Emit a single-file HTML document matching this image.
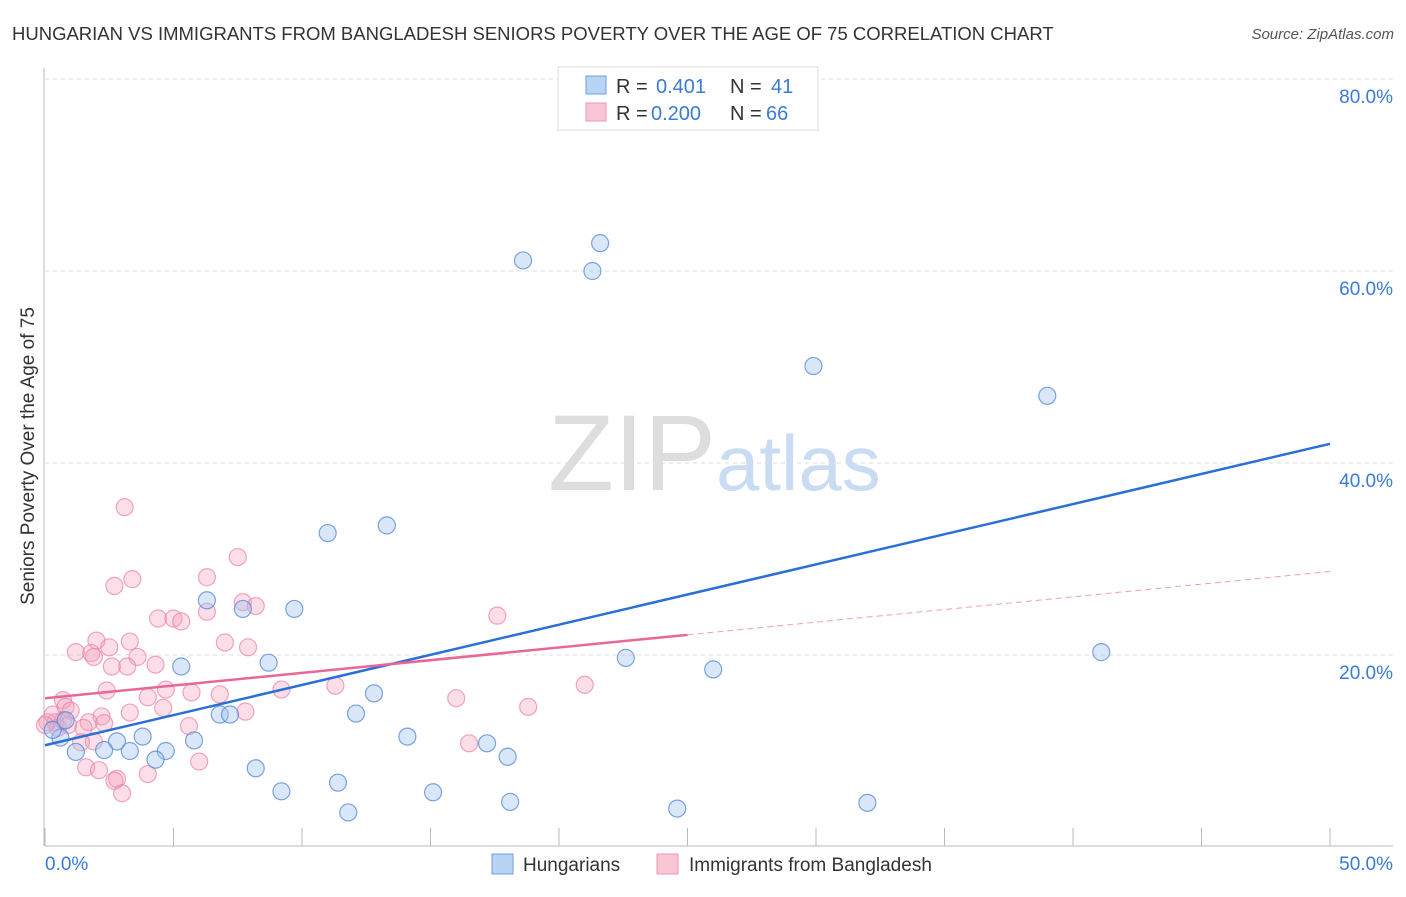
<!DOCTYPE html>
<html><head><meta charset="utf-8"><style>
body{margin:0;background:#fff;font-family:"Liberation Sans",sans-serif;}
svg text{font-family:"Liberation Sans",sans-serif;}
</style></head><body>
<svg id="c" width="1406" height="892">
<text x="12" y="40" font-size="18.5" fill="#333">HUNGARIAN VS IMMIGRANTS FROM BANGLADESH SENIORS POVERTY OVER THE AGE OF 75 CORRELATION CHART</text>
<text x="1394" y="39" font-size="15" fill="#555" font-style="italic" text-anchor="end">Source: ZipAtlas.com</text>
<text x="716" y="490" font-size="108" font-family="Liberation Serif,serif" fill="#ddd" text-anchor="end">ZIP</text>
<text x="716" y="490" font-size="78" fill="#c9dcf3">atlas</text>
<text transform="translate(34,456) rotate(-90)" font-size="19" fill="#333" text-anchor="middle">Seniors Poverty Over the Age of 75</text>
<g id="grid"></g><g id="marks"></g>
<g>
<rect x="558" y="67" width="260" height="63" fill="#fff" stroke="#ddd"/>
<rect x="586" y="76" width="20" height="18" fill="#b9d3f5" stroke="#6f9fe0"/>
<rect x="586" y="103" width="20" height="18" fill="#f8c6d5" stroke="#ec97b2"/>
<text x="616" y="93" font-size="20" fill="#333">R = </text><text x="656" y="93" font-size="20" fill="#3a7bd5">0.401</text>
<text x="730" y="93" font-size="20" fill="#333">N = </text><text x="771" y="93" font-size="20" fill="#3a7bd5">41</text>
<text x="616" y="120" font-size="20" fill="#333">R = </text><text x="651" y="120" font-size="20" fill="#3a7bd5">0.200</text>
<text x="730" y="120" font-size="20" fill="#333">N = </text><text x="766" y="120" font-size="20" fill="#3a7bd5">66</text>
</g>
<g>
<rect x="492" y="854" width="21" height="20" fill="#b9d3f5" stroke="#6f9fe0"/>
<text x="523" y="871" font-size="19" fill="#333">Hungarians</text>
<rect x="657" y="854" width="21" height="20" fill="#f8c6d5" stroke="#ec97b2"/>
<text x="689" y="871" font-size="19" fill="#333">Immigrants from Bangladesh</text>
</g>
</svg>
<script>
const xTicks=[0,50];
const yTicks=[20,40,60,80];
const blueX=[18.6,21.6,21.3,29.9,39.0,41.1,11.0,13.3,6.3,7.7,9.7,5.3,8.7,22.6,26.0,6.8,7.2,12.1,12.8,14.1,17.2,18.0,5.8,3.8,2.8,2.3,3.3,1.2,4.7,4.3,8.2,11.4,9.2,15.1,18.1,11.8,24.6,32.0,0.6,0.3,0.8];
const blueY=[61.1,62.9,60.0,50.1,47.0,20.3,32.7,33.5,25.7,24.8,24.8,18.8,19.2,19.7,18.5,13.8,13.8,13.9,16.0,11.5,10.8,9.4,11.1,11.5,11.0,10.1,10.0,9.9,10.0,9.1,8.2,6.7,5.8,5.7,4.7,3.6,4.0,4.6,11.4,12.2,13.2];
const pinkX=[3.1,7.5,6.3,3.4,2.7,7.7,8.2,6.3,4.4,5.0,5.3,17.6,3.3,2.0,7.0,7.9,1.2,1.8,1.9,2.5,3.6,3.2,2.6,4.3,2.4,4.7,5.7,6.8,4.0,9.2,11.3,21.0,16.0,0.7,0.8,1.0,4.6,7.8,3.3,2.2,0.1,0.4,0.5,0.7,0.9,1.7,1.5,2.3,5.6,1.9,18.8,16.5,1.6,2.1,2.8,2.7,4.0,6.0,3.0,1.4,0.3,0.0];
const pinkY=[35.4,30.2,28.1,27.9,27.2,25.5,25.1,24.5,23.8,23.8,23.5,24.1,21.4,21.5,21.3,20.8,20.3,20.2,19.8,20.8,19.8,18.8,18.8,19.0,16.3,16.4,16.1,15.9,15.6,16.4,16.8,16.9,15.5,15.3,14.6,14.2,14.5,14.1,14.0,13.6,13.0,13.0,12.4,13.2,12.7,13.0,12.4,12.9,12.6,11.0,14.6,10.8,8.3,8.0,7.1,6.9,7.6,8.9,5.6,10.9,13.8,12.7];
const blueTrend=[10.6,42.0];
const pinkTrend=[15.5,28.7];
const pinkSolidEnd=25.0;
const NS='http://www.w3.org/2000/svg';
const sx=v=>45+v*(1285/50);
const sy=v=>847-v*9.6;
function mk(t,a,p){const e=document.createElementNS(NS,t);for(const k in a)e.setAttribute(k,a[k]);p.appendChild(e);return e;}
const g=document.getElementById('grid'),m=document.getElementById('marks');
yTicks.forEach(t=>{
 const l=mk('line',{x1:45,x2:1393,y1:sy(t),y2:sy(t),stroke:'#ddd','stroke-dasharray':'4,4'},g);
 
 
 const tx=mk('text',{x:1393,y:sy(t)+24,'font-size':19,fill:'#3a7bd5','text-anchor':'end'},g);tx.textContent=t.toFixed(1)+'%';
 
 
});
mk('line',{x1:44,x2:44,y1:68,y2:846,stroke:'#bbb'},g);
mk('line',{x1:45,x2:1393,y1:846,y2:846,stroke:'#bbb'},g);
for(let i=0;i<=10;i++){mk('line',{x1:sx(i*5),x2:sx(i*5),y1:828,y2:846,stroke:'#bbb'},g);}
xTicks.forEach((t,i)=>{const tx=mk('text',{x:i?1393:45,y:870,'font-size':19,fill:'#3a7bd5','text-anchor':i?'end':'start'},g);tx.textContent=t.toFixed(1)+'%';
 
 });
pinkX.forEach((x,i)=>{const c=mk('circle',{cx:sx(x),cy:sy(pinkY[i]),r:8.5,fill:'rgba(244,160,188,0.35)',stroke:'rgba(236,130,165,0.7)','stroke-width':1.2},m);
 
 });
blueX.forEach((x,i)=>{const c=mk('circle',{cx:sx(x),cy:sy(blueY[i]),r:8.5,fill:'rgba(160,195,240,0.4)',stroke:'rgba(80,135,215,0.75)','stroke-width':1.2},m);
 
 });
const pAt=x=>pinkTrend[0]+(pinkTrend[1]-pinkTrend[0])*x/50;
const bl=mk('line',{x1:sx(0),y1:sy(blueTrend[0]),x2:sx(50),y2:sy(blueTrend[1]),stroke:'#2a6fd6','stroke-width':2.5},m);


const pl=mk('line',{x1:sx(0),y1:sy(pAt(0)),x2:sx(pinkSolidEnd),y2:sy(pAt(pinkSolidEnd)),stroke:'#e8679a','stroke-width':2.5},m);


const pd=mk('line',{x1:sx(pinkSolidEnd),y1:sy(pAt(pinkSolidEnd)),x2:sx(50),y2:sy(pAt(50)),stroke:'#e8a0b8','stroke-width':1,'stroke-dasharray':'6,4'},m);


</script>
</body></html>
